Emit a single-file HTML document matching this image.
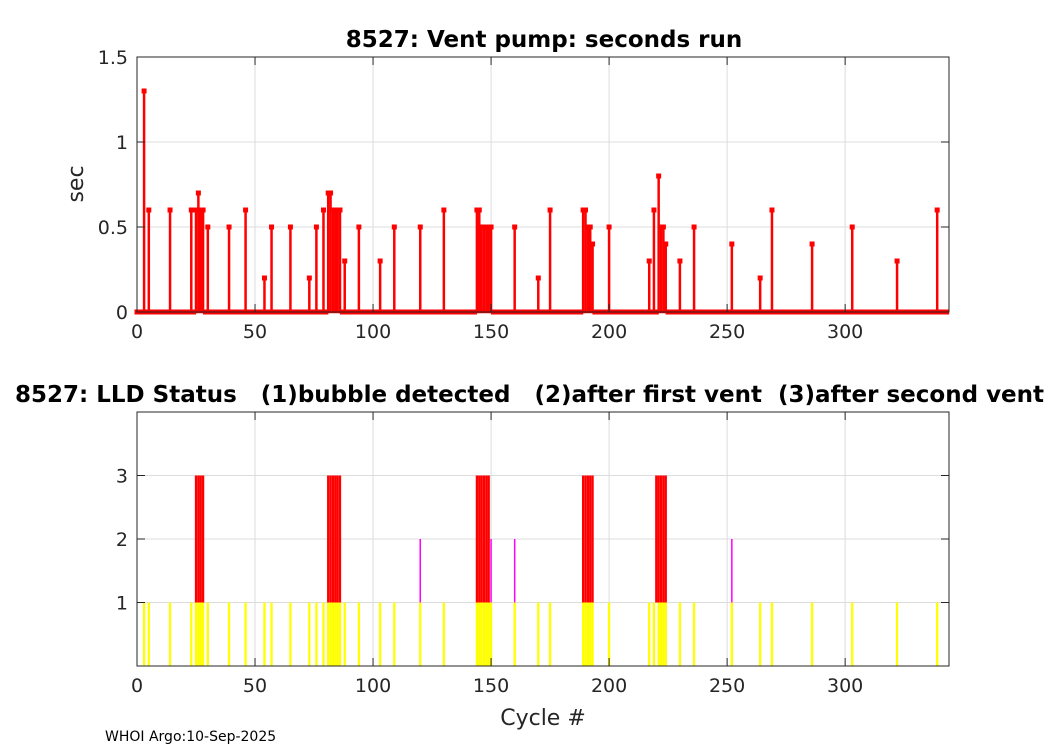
<!DOCTYPE html>
<html><head><meta charset="utf-8"><style>
html,body{margin:0;padding:0;background:#fff;overflow:hidden;}
svg{display:block;font-family:"DejaVu Sans","Liberation Sans",sans-serif;}
</style></head><body>
<svg id="fig" width="1050" height="750" viewBox="0 0 1050 750">
<rect width="1050" height="750" fill="#fff"/>
<g id="topChart"></g>
<g id="botChart"></g>
<text x="105" y="741" font-size="14" fill="#000">WHOI Argo:10-Sep-2025</text>
</svg>
<script>
const nCycles = 344;
const spikeCycles = [3,5,14,23,25,26,27,28,30,39,46,54,57,65,73,76,79,81,82,83,84,85,86,88,94,103,109,120,130,144,145,146,147,148,149,150,160,170,175,189,190,191,192,193,200,217,219,221,222,223,224,230,236,252,264,269,286,303,322,339];
const spikeValues = [1.3,0.6,0.6,0.6,0.6,0.7,0.6,0.6,0.5,0.5,0.6,0.2,0.5,0.5,0.2,0.5,0.6,0.7,0.7,0.6,0.6,0.6,0.6,0.3,0.5,0.3,0.5,0.5,0.6,0.6,0.6,0.5,0.5,0.5,0.5,0.5,0.5,0.2,0.6,0.6,0.6,0.5,0.5,0.4,0.5,0.3,0.6,0.8,0.5,0.5,0.4,0.3,0.5,0.4,0.2,0.6,0.4,0.5,0.3,0.6];
const status3Cycles = [25,26,27,28,81,82,83,84,85,86,144,145,146,147,148,149,189,190,191,192,193,220,221,222,223,224];
const status2Cycles = [120,150,160,252];
const xTicks = [0,50,100,150,200,250,300];
const yTicksTop = [0,0.5,1,1.5];
const yTicksBot = [1,2,3];

const NS = "http://www.w3.org/2000/svg";
function mk(parent, tag, attrs){const e=document.createElementNS(NS,tag);for(const k in attrs)e.setAttribute(k,attrs[k]);parent.appendChild(e);return e;}
const L=137,R=949;
const xs = v => L + v*(R-L)/nCycles;
const yTop = v => 312 - v*(312-57)/1.5;
const yBot = v => 666 - v*(666-412)/4;

function axes(g, T, B, yticks, ysc){
  xTicks.forEach(t=>{const l=mk(g,'line',{x1:xs(t),x2:xs(t),y1:T,y2:B,stroke:'#dcdcdc','stroke-width':1});
  });
  yticks.forEach(t=>{const l=mk(g,'line',{x1:L,x2:R,y1:ysc(t),y2:ysc(t),stroke:'#dcdcdc','stroke-width':1});
  });
}
function frame(g,T,B,yticks,ysc,fmt){
  const f=mk(g,'rect',{x:L,y:T,width:R-L,height:B-T,fill:'none',stroke:'#262626','stroke-width':1});
  
  xTicks.forEach(t=>{
    mk(g,'line',{x1:xs(t),x2:xs(t),y1:B,y2:B-8,stroke:'#262626'});
    mk(g,'line',{x1:xs(t),x2:xs(t),y1:T,y2:T+8,stroke:'#262626'});
    const tx=mk(g,'text',{x:xs(t),y:B+26,'font-size':19,'text-anchor':'middle',fill:'#262626'});tx.textContent=t;
    
  });
  yticks.forEach(t=>{
    mk(g,'line',{x1:L,x2:L+8,y1:ysc(t),y2:ysc(t),stroke:'#262626'});
    mk(g,'line',{x1:R,x2:R-8,y1:ysc(t),y2:ysc(t),stroke:'#262626'});
    const tx=mk(g,'text',{x:L-9,y:ysc(t)+7,'font-size':19,'text-anchor':'end',fill:'#262626'});tx.textContent=fmt(t);
    
  });
}

// Top chart
const topG=document.getElementById('topChart');
axes(topG,57,312,yTicksTop,yTop);
const vals=new Array(nCycles).fill(0);
spikeCycles.forEach((c,i)=>{vals[c]=spikeValues[i];});
const base=mk(topG,'line',{x1:xs(0),x2:xs(nCycles-1),y1:yTop(0),y2:yTop(0),stroke:'#ff0000','stroke-width':2.5});


spikeCycles.forEach((c,i)=>{
  const s=mk(topG,'line',{x1:xs(c),x2:xs(c),y1:yTop(0),y2:yTop(spikeValues[i]),stroke:'#ff0000','stroke-width':2.5});
  
  
});
for(let c=0;c<nCycles;c++){
  const m=mk(topG,'rect',{x:xs(c)-2.5,y:yTop(vals[c])-2.5,width:5,height:5,fill:'#ff0000'});
  
  
}
frame(topG,57,312,yTicksTop,yTop,t=>String(t));
const t1=mk(topG,'text',{x:544,y:47,'font-size':23,'font-weight':'bold','text-anchor':'middle',fill:'#000'});
t1.textContent='8527: Vent pump: seconds run';

const yl=mk(topG,'text',{x:83,y:184,'font-size':22,'text-anchor':'middle',fill:'#262626',transform:'rotate(-90 83 184)'});
yl.textContent='sec';


// Bottom chart
const botG=document.getElementById('botChart');
axes(botG,412,666,yTicksBot,yBot);
const onesSet=new Set(spikeCycles.concat(status2Cycles));
[...onesSet].forEach(c=>{
  const b=mk(botG,'line',{x1:xs(c),x2:xs(c),y1:yBot(0),y2:yBot(1),stroke:'#ffff00','stroke-width':2.3});
  
  
});
status2Cycles.forEach(c=>{
  const b=mk(botG,'line',{x1:xs(c),x2:xs(c),y1:yBot(1),y2:yBot(2),stroke:'#ff00ff','stroke-width':1.5});
  
  
});
status3Cycles.forEach(c=>{
  const b=mk(botG,'line',{x1:xs(c),x2:xs(c),y1:yBot(1),y2:yBot(3),stroke:'#ff0000','stroke-width':2.3});
  
  
});
frame(botG,412,666,yTicksBot,yBot,t=>String(t));
const t2=mk(botG,'text',{x:15,y:402,'font-size':23,'font-weight':'bold',fill:'#000',style:'white-space:pre'});
t2.textContent='8527: LLD Status   (1)bubble detected   (2)after first vent  (3)after second vent';

const xl=mk(botG,'text',{x:543,y:725,'font-size':22,'text-anchor':'middle',fill:'#262626'});
xl.textContent='Cycle #';

</script>
</body></html>
